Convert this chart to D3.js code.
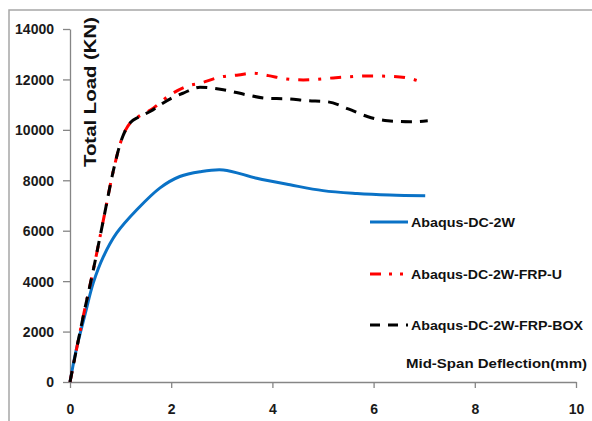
<!DOCTYPE html>
<html><head><meta charset="utf-8">
<script src="https://cdn.jsdelivr.net/npm/d3@7"></script>
<style>body{margin:0;background:#fff}svg{display:block}text{font-family:"Liberation Sans",Arial,sans-serif;font-weight:bold}</style>
</head><body><svg id="c" width="592" height="421"></svg>
<script>
const seriesNames = ["Abaqus-DC-2W", "Abaqus-DC-2W-FRP-U", "Abaqus-DC-2W-FRP-BOX"];
const xTicks = [0, 2, 4, 6, 8, 10];
const yTicks = [0, 2000, 4000, 6000, 8000, 10000, 12000, 14000];
const dc2wX = [0, 0.12, 0.3, 0.46, 0.66, 0.92, 1.32, 1.78, 2.17, 2.57, 3.03, 3.69, 4.35, 5.0, 5.67, 6.32, 7.02];
const dc2wY = [0, 1250, 2700, 3930, 4970, 5900, 6830, 7700, 8150, 8340, 8410, 8080, 7820, 7590, 7480, 7420, 7390];
const frpUX = [0, 0.26, 0.46, 0.66, 0.86, 1.0, 1.1, 1.2, 1.35, 1.6, 1.98, 2.34, 2.57, 2.96, 3.33, 3.62, 3.92, 4.28, 4.61, 5.2, 5.89, 6.52, 6.95];
const frpUY = [0, 2590, 4440, 6430, 8410, 9500, 10000, 10300, 10520, 10800, 11390, 11750, 11850, 12090, 12180, 12250, 12150, 12020, 11980, 12060, 12140, 12100, 11900];
const boxX = [0, 0.26, 0.46, 0.66, 0.86, 1.0, 1.1, 1.2, 1.35, 1.6, 1.78, 2.0, 2.24, 2.57, 3.03, 3.49, 3.89, 4.28, 4.68, 5.1, 5.5, 5.89, 6.28, 6.72, 7.07];
const boxY = [0, 2590, 4440, 6430, 8410, 9500, 10000, 10300, 10500, 10750, 10990, 11250, 11460, 11690, 11590, 11390, 11250, 11230, 11160, 11110, 10830, 10520, 10360, 10320, 10360];

const svg = d3.select("#c");
// outer frame (cropped)
svg.append("rect").attr("x", 9).attr("y", 10).attr("width", 700).attr("height", 500)
  .attr("fill", "none").attr("stroke", "#a6a6a6").attr("stroke-width", 1.5);

const x = d3.scaleLinear().domain([0, 10]).range([70, 576]);
const y = d3.scaleLinear().domain([0, 14000]).range([382, 29]);

const axisColor = "#868686";
const gx = svg.append("g").attr("transform", "translate(0,382)")
  .call(d3.axisBottom(x).tickValues(xTicks).tickFormat(d3.format("d")).tickSize(6).tickPadding(16).tickSizeOuter(0));
const gy = svg.append("g").attr("transform", "translate(70,0)")
  .call(d3.axisLeft(y).tickValues(yTicks).tickFormat(d3.format("d")).tickSize(7).tickPadding(9).tickSizeOuter(0));
[gx, gy].forEach(g => {
  g.selectAll("path,line").attr("stroke", axisColor).attr("stroke-width", 1.3);
  g.selectAll("text").attr("fill", "#1a1a1a").style("font-size", "14px").style("font-family", "'Liberation Sans',Arial,sans-serif").style("font-weight", "bold");
});
gy.selectAll("text").attr("dy", "0.35em");

const smooth = d3.line().x(d => x(d[0])).y(d => y(d[1])).curve(d3.curveCatmullRom.alpha(0.5));
const mono = d3.line().x(d => x(d[0])).y(d => y(d[1])).curve(d3.curveMonotoneX);
const zip = (a, b) => a.map((v, i) => [v, b[i]]);
const styles = [
  {data: zip(dc2wX, dc2wY), color: "#0a72c6", dash: null, gen: smooth},
  {data: zip(frpUX, frpUY), color: "#ff0000", dash: "11,9,3,9", gen: mono},
  {data: zip(boxX, boxY), color: "#000000", dash: "11,8", gen: mono}
];
styles.forEach(s => {
  svg.append("path").attr("d", s.gen(s.data)).attr("fill", "none")
    .attr("stroke", s.color).attr("stroke-width", 3)
    .attr("stroke-dasharray", s.dash);
});

// legend
const legY = [222, 274, 325];
const legW = [104, 151, 172];
const legDash = [null, "11,8,3,8,3,20", "10,8"];
styles.forEach((s, i) => {
  svg.append("line").attr("x1", 370).attr("x2", 408).attr("y1", legY[i]).attr("y2", legY[i])
    .attr("stroke", s.color).attr("stroke-width", 3).attr("stroke-dasharray", legDash[i]);
  svg.append("text").attr("x", 411).attr("y", legY[i]).attr("dy", "0.35em")
    .style("font-size", "13px").attr("fill", "#111")
    .attr("textLength", legW[i]).attr("lengthAdjust", "spacingAndGlyphs")
    .text(seriesNames[i]);
});

// axis titles
svg.append("text").attr("x", 587).attr("y", 368).attr("text-anchor", "end")
  .style("font-size", "13px").attr("fill", "#111")
  .attr("textLength", 181).attr("lengthAdjust", "spacingAndGlyphs")
  .text("Mid-Span Deflection(mm)");
svg.append("text").attr("transform", "translate(96,167) rotate(-90)")
  .style("font-size", "16px").attr("fill", "#111")
  .attr("textLength", 150).attr("lengthAdjust", "spacingAndGlyphs")
  .text("Total Load (KN)");
</script></body></html>
